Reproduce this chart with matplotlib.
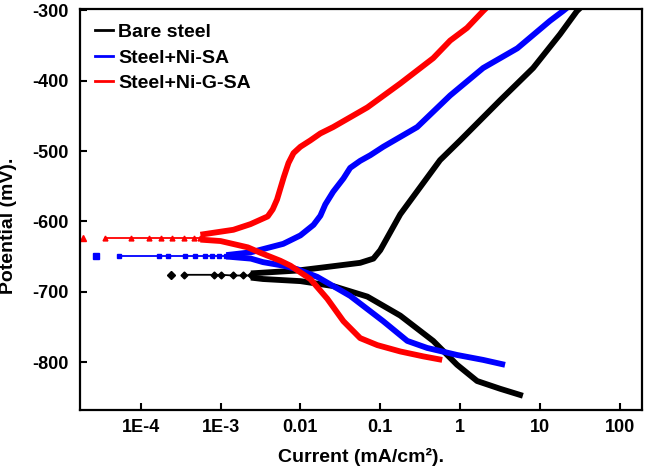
import matplotlib
matplotlib.use("Agg")
import matplotlib.pyplot as plt
from matplotlib.ticker import FixedLocator, FixedFormatter, NullLocator

plt.rcParams['font.family'] = ['Liberation Sans', 'DejaVu Sans']
plt.rcParams['font.weight'] = 'bold'
plt.rcParams['axes.unicode_minus'] = False

# current in mA/cm2, potential in mV
bare_tail_i = [2.4e-4, 3.5e-4, 8.2e-4, 1.0e-3, 1.45e-3, 1.9e-3, 2.4e-3]
bare_tail_e = [-676, -676, -676, -676, -677, -677, -677]
bare_an_i = [2.4e-3, 9.1e-3, 0.0178, 0.056, 0.082, 0.1, 0.178, 0.56, 1.0, 3.16, 8.2, 17.8, 29.0, 33.0]
bare_an_e = [-674, -670, -666, -659, -653, -641, -590, -513, -485, -428, -382, -334, -301, -295]
bare_ca_i = [2.4e-3, 3.4e-3, 0.01, 0.0257, 0.069, 0.178, 0.46, 0.917, 1.63, 3.16, 6.1]
bare_ca_e = [-680, -682, -685, -692, -707, -734, -770, -804, -827, -838, -848]

ni_tail_i = [2.74e-5, 5.3e-5, 1.68e-4, 2.2e-4, 3.6e-4, 4.8e-4, 6.4e-4, 7.9e-4, 9.6e-4, 1.18e-3]
ni_tail_e = [-649, -649, -649, -649, -649, -649, -649, -649, -649, -649]
ni_an_i = [1.18e-3, 2.4e-3, 6.1e-3, 0.01, 0.0146, 0.0178, 0.0205, 0.0257, 0.0346, 0.042, 0.056,
           0.075, 0.109, 0.29, 0.75, 1.94, 5.2, 13.3, 19.4, 22.0]
ni_an_e = [-648, -644, -632, -620, -605, -592, -576, -558, -539, -524, -514,
           -506, -494, -466, -421, -382, -354, -315, -301, -296]
ni_ca_i = [1.18e-3, 2.4e-3, 3.4e-3, 6.1e-3, 9.1e-3, 0.0163, 0.042, 0.109, 0.218, 0.387, 0.917, 1.94, 3.65]
ni_ca_e = [-650, -653, -658, -663, -668, -679, -706, -742, -770, -780, -790, -797, -804]

nig_tail_i = [1.9e-5, 3.6e-5, 7.5e-5, 1.26e-4, 1.8e-4, 2.5e-4, 3.5e-4, 4.6e-4, 5.6e-4]
nig_tail_e = [-623, -623, -623, -623, -623, -623, -623, -623, -623]
nig_an_i = [5.6e-4, 1.45e-3, 2.37e-3, 3.9e-3, 4.5e-3, 5.1e-3, 6.2e-3, 7.1e-3, 8.2e-3, 0.01,
            0.0133, 0.0178, 0.0257, 0.069, 0.178, 0.46, 0.75, 1.22, 1.94, 2.2]
nig_an_e = [-619, -612, -604, -593, -583, -569, -537, -517, -503, -494,
            -485, -475, -466, -438, -404, -368, -343, -325, -301, -295]
nig_ca_i = [5.6e-4, 1.0e-3, 2.2e-3, 3.2e-3, 5.6e-3, 7.5e-3, 0.0133, 0.0217, 0.0346, 0.056, 0.092, 0.178, 0.346, 0.596]
nig_ca_e = [-626, -628, -637, -645, -656, -663, -682, -710, -742, -766, -776, -785, -792, -797]

x_ticks = [1e-4, 1e-3, 0.01, 0.1, 1, 10, 100]
x_labels = ['1E-4', '1E-3', '0.01', '0.1', '1', '10', '100']
y_ticks = [-800, -700, -600, -500, -400, -300]

fig = plt.figure(figsize=(6.45, 4.70), dpi=100)
ax = fig.add_axes([0.124, 0.128, 0.871, 0.853])

series = [
    ('Bare steel', 'black', 'D', bare_tail_i, bare_tail_e, bare_an_i, bare_an_e, bare_ca_i, bare_ca_e),
    ('Steel+Ni-SA', '#0000ff', 's', ni_tail_i, ni_tail_e, ni_an_i, ni_an_e, ni_ca_i, ni_ca_e),
    ('Steel+Ni-G-SA', '#ff0000', '^', nig_tail_i, nig_tail_e, nig_an_i, nig_an_e, nig_ca_i, nig_ca_e),
]

for name, c, m, ti, te, ai, ae, ci, ce in series:
    ax.plot(ti[1:], te[1:], '-', color=c, lw=1.3, marker=m, ms=3.5, mec=c, mfc=c)
    ax.plot(ti[:1], te[:1], ls='none', color=c, marker=m, ms=4.5)
    ax.plot(ai, ae, '-', color=c, lw=4.2, solid_capstyle='butt', solid_joinstyle='round')
    ax.plot(ci, ce, '-', color=c, lw=4.2, solid_capstyle='butt', solid_joinstyle='round')
    ax.plot([], [], '-', color=c, lw=2, label=name)

ax.set_xscale('log')
ax.set_xlim(1.74e-5, 188)
ax.set_ylim(-868, -298)
ax.xaxis.set_major_locator(FixedLocator(x_ticks))
ax.xaxis.set_major_formatter(FixedFormatter(x_labels))
ax.xaxis.set_minor_locator(NullLocator())
ax.set_yticks(y_ticks)

for s in ax.spines.values():
    s.set_linewidth(1.6)
ax.tick_params(direction='in', length=5, width=1.5, labelsize=13)
ax.tick_params(axis='x', pad=6.5)
ax.tick_params(axis='y', pad=8.5)

ax.set_xlabel('Current (mA/cm²).', fontsize=14, fontweight='bold', labelpad=9)
ax.set_ylabel('Potential (mV).', fontsize=14, fontweight='bold')
ax.yaxis.set_label_coords(-0.112, 0.459)

leg = ax.legend(loc='upper left', frameon=False, fontsize=14, handlelength=0.93,
                handletextpad=0.3, labelspacing=0.4, borderaxespad=0.35)

fig.savefig('out.png', dpi=100)
